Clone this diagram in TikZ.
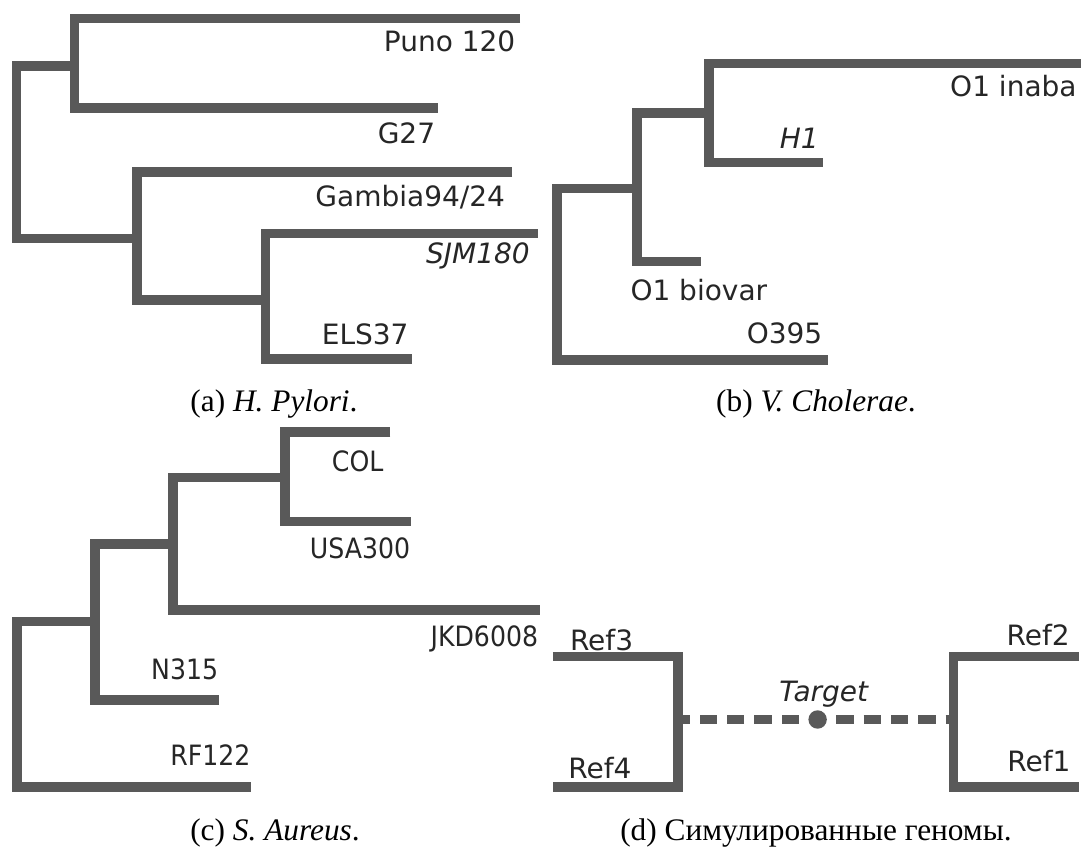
\documentclass[tikz,border=0pt]{standalone}
\usepackage{fontspec}
\setmainfont{Liberation Serif}
\newfontfamily\treefont{DejaVu Sans}
\newfontfamily\treefontc[FakeStretch=0.9]{DejaVu Sans}
\definecolor{branchgray}{RGB}{89,89,89}

\tikzset{every picture/.style={line width=0.75pt}}
\tikzset{
  branch/.style={draw=branchgray, line width=7.1pt, line join=miter},
  link/.style={branch, dash pattern=on 13pt off 7.5pt, dash phase=13.7pt},
  dot/.style={circle, fill=branchgray, inner sep=0pt, minimum size=13.8pt},
  leaf/.style={inner sep=0pt, text=black!85, font=\treefont\fontsize{21}{25}\selectfont},
  leafc/.style={leaf, font=\treefontc\fontsize{21}{25}\selectfont},
  capt/.style={inner sep=0pt, font=\fontsize{23.5}{28}\selectfont},
}

\begin{document}
\begin{tikzpicture}[x=0.75pt,y=0.75pt,yscale=-1,xscale=1]
	\useasboundingbox (0,0) rectangle (1084,847);

	%Tree (a)
	\coordinate (puno) at (520,18.3);
	\coordinate (g27) at (438,108);
	\coordinate (a2) at (74.4,66.2);
	\coordinate (gambia) at (512,172.2);
	\coordinate (a3) at (137.2,238.7);
	\coordinate (sjm) at (537.9,233.7);
	\coordinate (els) at (411.5,358.8);
	\coordinate (a4) at (265.3,300);
	\coordinate (a1) at (16.7,150);
	\draw [branch] (puno) -| (a2) |- (g27) ;
	\draw [branch] (gambia) -| (a3) |- (a4) ;
	\draw [branch] (sjm) -| (a4) |- (els) ;
	\draw [branch] (a2) -| (a1) |- (a3) ;

	%Tree (b)
	\coordinate (inaba) at (1080.6,63.5);
	\coordinate (h1) at (822.8,162.5);
	\coordinate (b3) at (709.2,112.8);
	\coordinate (biovar) at (700.7,261.7);
	\coordinate (b2) at (637.2,188.5);
	\coordinate (o395) at (828,359.8);
	\coordinate (b1) at (557.2,270);
	\draw [branch] (inaba) -| (b3) |- (h1) ;
	\draw [branch] (b3) -| (b2) |- (biovar) ;
	\draw [branch] (b2) -| (b1) |- (o395) ;

	%Tree (c)
	\coordinate (col) at (390.4,431.8);
	\coordinate (usa) at (410.7,521.7);
	\coordinate (c4) at (285.2,477.5);
	\coordinate (jkd) at (540.4,609.8);
	\coordinate (c3) at (173,544.2);
	\coordinate (n315) at (219.3,700);
	\coordinate (c2) at (94.8,621.5);
	\coordinate (rf122) at (251,786.8);
	\coordinate (c1) at (17,700);
	\draw [branch] (col) -| (c4) |- (usa) ;
	\draw [branch] (c4) -| (c3) |- (jkd) ;
	\draw [branch] (c3) -| (c2) |- (n315) ;
	\draw [branch] (c2) -| (c1) |- (rf122) ;

	%Tree (d)
	\coordinate (ref3) at (552.8,656.7);
	\coordinate (ref4) at (552.8,787.2);
	\coordinate (d1) at (677.9,719.5);
	\coordinate (ref2) at (1079,656.7);
	\coordinate (ref1) at (1079,787.2);
	\coordinate (d2) at (953.4,719.5);
	\draw [branch] (ref3) -| (d1) |- (ref4) ;
	\draw [branch] (ref2) -| (d2) |- (ref1) ;
	\node [dot] (target) at (817.6,719.5) {};
	\draw [link] (target) -- (d1) ;
	\draw [link] (target) -- (d2) ;

	% Text Node
	\node [leaf, anchor=base east] (lpuno) at (515.8,51.7) {Puno 120};
	\node [leaf, anchor=base east] (lg27) at (435.6,143.3) {G27};
	\node [leaf, anchor=base east] (lgambia) at (505.5,206.7) {Gambia94/24};
	\node [leaf, anchor=base east] (lsjm) at (530.3,263.3) {\itshape SJM180};
	\node [leaf, anchor=base east] (lels) at (409,344.3) {ELS37};
	% Text Node
	\node [leaf, anchor=base east] (linaba) at (1077.1,96.7) {O1 inaba};
	\node [leaf, anchor=base east] (lh1) at (819.3,148.3) {\itshape H1};
	\node [leaf, anchor=base west] (lbiovar) at (630,300) {O1 biovar};
	\node [leaf, anchor=base east] (lo395) at (822.8,343.3) {O395};
	% Text Node
	\node [leafc, anchor=base east] (lcol) at (383.9,471) {COL};
	\node [leafc, anchor=base east] (lusa) at (410.7,558.3) {USA300};
	\node [leafc, anchor=base east] (ljkd) at (538.6,646.7) {JKD6008};
	\node [leafc, anchor=base east] (ln315) at (218.6,679.3) {N315};
	\node [leafc, anchor=base east] (lrf122) at (251,765) {RF122};
	% Text Node
	\node [leaf, anchor=base west] (lref3) at (569.5,650) {Ref3};
	\node [leaf, anchor=base west] (lref4) at (567.8,778.3) {Ref4};
	\node [leaf, anchor=base east] (lref2) at (1070.2,645) {Ref2};
	\node [leaf, anchor=base east] (lref1) at (1070.9,771.7) {Ref1};
	\node [leaf, anchor=base] (ltarget) at (823.7,701.7) {\itshape Target};

	% Captions
	\node [capt, anchor=base] (capa) at (274,411) {(a) \textit{H. Pylori}.};
	\node [capt, anchor=base] (capb) at (816,411) {(b) \textit{V. Cholerae}.};
	\node [capt, anchor=base] (capc) at (275,840) {(c) \textit{S. Aureus}.};
	\node [capt, anchor=base] (capd) at (816,840) {(d) Симулированные геномы.};

\end{tikzpicture}
\end{document}
